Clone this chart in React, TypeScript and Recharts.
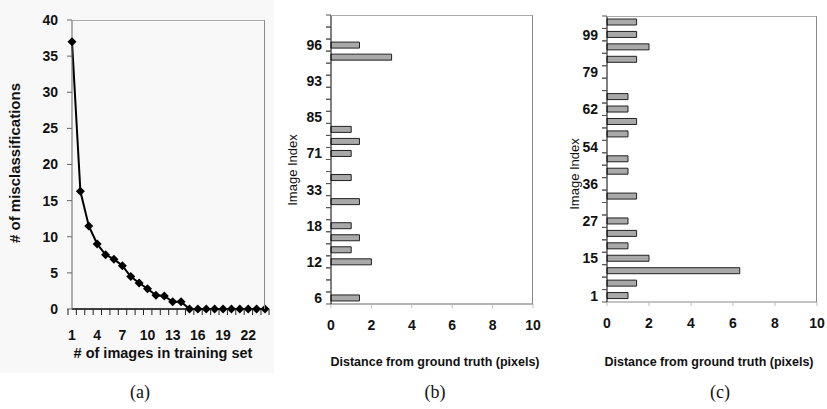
import React from 'react';
import { LineChart, Line, BarChart, Bar, XAxis, YAxis } from 'recharts';

// (a) misclassifications vs training set size
const trainSizes = ['1', '2', '3', '4', '5', '6', '7', '8', '9', '10', '11', '12', '13', '14', '15', '16', '17', '18', '19', '20', '21', '22', '23', '24'];
const misclassifications = [37, 16.3, 11.5, 9, 7.5, 6.9, 6, 4.5, 3.6, 2.8, 1.9, 1.8, 1, 1, 0, 0, 0, 0, 0, 0, 0, 0, 0, 0];
const trainTickLabels = ['1', '4', '7', '10', '13', '16', '19', '22'];
const misTicks = [0, 5, 10, 15, 20, 25, 30, 35, 40];

// (b) distance per image index
const imagesB = ['6', '8', '10', '12', '14', '16', '18', '22', '27', '33', '45', '58', '71', '74', '79', '85', '88', '90', '93', '94', '95', '96', '97', '98'];
const distB = [1.41, 0, 0, 2, 1, 1.41, 1, 0, 1.41, 0, 1, 0, 1, 1.41, 1, 0, 0, 0, 0, 0, 3, 1.41, 0, 0];
const labelsB = ['6', '12', '18', '33', '71', '85', '93', '96'];

// (c) distance per image index
const imagesC = ['1', '5', '10', '15', '19', '23', '27', '30', '33', '36', '42', '48', '54', '57', '60', '62', '68', '74', '79', '86', '92', '99', '100'];
const distC = [1, 1.41, 6.32, 2, 1, 1.41, 1, 0, 1.41, 0, 1, 1, 0, 1, 1.41, 1, 1, 0, 0, 1.41, 2, 1.41, 1.41];
const labelsC = ['1', '15', '27', '36', '54', '62', '79', '99'];

const distTicks = [0, 2, 4, 6, 8, 10];

const SANS = '"Liberation Sans", Arial, sans-serif';
const tickFont = { fontFamily: SANS, fontSize: 14, fontWeight: 700, fill: '#111' };

const dataA = trainSizes.map((n, i) => ({ n, v: misclassifications[i] }));
const dataB = imagesB.map((img, i) => ({ img, d: distB[i] }));
const dataC = imagesC.map((img, i) => ({ img, d: distC[i] }));

const Diamond = (p: any) => {
  const { cx, cy, index } = p;
  const r = 4.5;
  return (
    <path key={index} d={`M${cx} ${cy - r}L${cx + r} ${cy}L${cx} ${cy + r}L${cx - r} ${cy}Z`} fill="#000" />
  );
};

const makeXCatTick = (band: number, labels: string[], last: string) => (p: any) => {
  const { x, y, payload } = p;
  return (
    <g>
      <line x1={x - band / 2} x2={x - band / 2} y1={y} y2={y + 6} stroke="#222" />
      {payload.value === last && <line x1={x + band / 2} x2={x + band / 2} y1={y} y2={y + 6} stroke="#222" />}
      {labels.includes(payload.value) && (
        <text x={x} y={y + 26} textAnchor="middle" dominantBaseline="central" {...tickFont}>
          {payload.value}
        </text>
      )}
    </g>
  );
};

const makeYCatTick = (band: number, labels: string[]) => (p: any) => {
  const { x, y, payload } = p;
  return (
    <g>
      <line x1={x - 5} x2={x} y1={y - band / 2} y2={y - band / 2} stroke="#555" />
      <line x1={x - 5} x2={x} y1={y + band / 2} y2={y + band / 2} stroke="#555" />
      {labels.includes(payload.value) && (
        <text x={x - 9} y={y} textAnchor="end" dominantBaseline="central" {...tickFont}>
          {payload.value}
        </text>
      )}
    </g>
  );
};

const Title = ({ x, y, text, rotate, style }: any) => (
  <div
    style={{
      position: 'absolute',
      left: x,
      top: y,
      transform: `translate(-50%, -50%)${rotate ? ' rotate(-90deg)' : ''}`,
      whiteSpace: 'nowrap',
      fontFamily: SANS,
      color: '#111',
      lineHeight: 1,
      ...style,
    }}
  >
    {text}
  </div>
);

// plot areas
const A = { x: 0, w: 275, h: 372, left: 72, right: 10, top: 20, bottom: 63 };
const B = { x: 275, w: 270, h: 372, left: 56, right: 12, top: 15, bottom: 68 };
const C = { x: 550, w: 277, h: 372, left: 57, right: 10, top: 16, bottom: 70 };

// gray top/right border of the plot box
const Frame = ({ p }: any) => (
  <div
    style={{
      position: 'absolute',
      left: p.x + p.left,
      top: p.top,
      width: p.w - p.left - p.right,
      height: p.h - p.top - p.bottom,
      borderTop: '1px solid #aaa',
      borderRight: '1.5px solid #888',
      boxSizing: 'border-box',
      pointerEvents: 'none',
    }}
  />
);

export default function App() {
  const bandA = (A.w - A.left - A.right) / trainSizes.length;
  const bandB = (B.h - B.top - B.bottom) / imagesB.length;
  const bandC = (C.h - C.top - C.bottom) / imagesC.length;

  return (
    <div style={{ position: 'relative', width: 827, height: 409, background: '#fff', overflow: 'hidden' }}>
      <style>{`body{margin:0}`}</style>
      <div style={{ position: 'absolute', left: 0, top: 0, width: 274, height: 373, background: '#f8f8f8' }} />

      <div style={{ position: 'absolute', left: A.x, top: 0 }}>
        <LineChart width={A.w} height={A.h} data={dataA} margin={{ top: A.top, right: A.right, bottom: 0, left: 0 }}>
          <XAxis
            dataKey="n"
            type="category"
            interval={0}
            height={A.bottom}
            tickSize={0}
            tickMargin={0}
            axisLine={{ stroke: '#000', strokeWidth: 1.5 }}
            tickLine={false}
            tick={makeXCatTick(bandA, trainTickLabels, '24')}
          />
          <YAxis
            domain={[0, 40]}
            ticks={misTicks}
            width={A.left}
            tickSize={5}
            tickMargin={9}
            interval={0}
            axisLine={{ stroke: '#666' }}
            tickLine={{ stroke: '#666' }}
            tick={tickFont}
          />
          <Line dataKey="v" stroke="#000" strokeWidth={2} dot={Diamond} isAnimationActive={false} />
        </LineChart>
      </div>

      <div style={{ position: 'absolute', left: B.x, top: 0 }}>
        <BarChart
          width={B.w}
          height={B.h}
          data={dataB}
          layout="vertical"
          barCategoryGap={0}
          margin={{ top: B.top, right: B.right, bottom: 0, left: 0 }}
        >
          <XAxis
            type="number"
            domain={[0, 10]}
            ticks={distTicks}
            height={B.bottom}
            tickSize={4}
            tickMargin={12}
            axisLine={{ stroke: '#666' }}
            tickLine={{ stroke: '#bbb' }}
            tick={tickFont}
          />
          <YAxis
            type="category"
            dataKey="img"
            reversed
            interval={0}
            width={B.left}
            tickSize={0}
            tickMargin={0}
            axisLine={{ stroke: '#000' }}
            tickLine={false}
            tick={makeYCatTick(bandB, labelsB)}
          />
          <Bar dataKey="d" barSize={6} fill="#a9a9a9" stroke="#222" strokeWidth={1} isAnimationActive={false} />
        </BarChart>
      </div>

      <div style={{ position: 'absolute', left: C.x, top: 0 }}>
        <BarChart
          width={C.w}
          height={C.h}
          data={dataC}
          layout="vertical"
          barCategoryGap={0}
          margin={{ top: C.top, right: C.right, bottom: 0, left: 0 }}
        >
          <XAxis
            type="number"
            domain={[0, 10]}
            ticks={distTicks}
            height={C.bottom}
            tickSize={4}
            tickMargin={12}
            axisLine={{ stroke: '#888' }}
            tickLine={{ stroke: '#bbb' }}
            tick={tickFont}
          />
          <YAxis
            type="category"
            dataKey="img"
            reversed
            interval={0}
            width={C.left}
            tickSize={0}
            tickMargin={0}
            axisLine={{ stroke: '#000' }}
            tickLine={false}
            tick={makeYCatTick(bandC, labelsC)}
          />
          <Bar dataKey="d" barSize={6} fill="#a9a9a9" stroke="#222" strokeWidth={1} isAnimationActive={false} />
        </BarChart>
      </div>

      <Frame p={A} />
      <Frame p={B} />
      <Frame p={C} />

      <Title x={14} y={163} rotate text="# of misclassifications" style={{ fontSize: 15, fontWeight: 700 }} />
      <Title x={163} y={353} text="# of images in training set" style={{ fontSize: 14.5, fontWeight: 700 }} />
      <Title x={292} y={170} rotate text="Image Index" style={{ fontSize: 13 }} />
      <Title x={435} y={362} text="Distance from ground truth (pixels)" style={{ fontSize: 12.5, fontWeight: 700 }} />
      <Title x={574} y={174} rotate text="Image Index" style={{ fontSize: 13 }} />
      <Title x={709} y={362} text="Distance from ground truth (pixels)" style={{ fontSize: 12.5, fontWeight: 700 }} />

      <Title x={140} y={392} text="(a)" style={{ fontSize: 18, fontFamily: '"Liberation Serif", serif' }} />
      <Title x={435} y={392} text="(b)" style={{ fontSize: 18, fontFamily: '"Liberation Serif", serif' }} />
      <Title x={720} y={392} text="(c)" style={{ fontSize: 18, fontFamily: '"Liberation Serif", serif' }} />
    </div>
  );
}
